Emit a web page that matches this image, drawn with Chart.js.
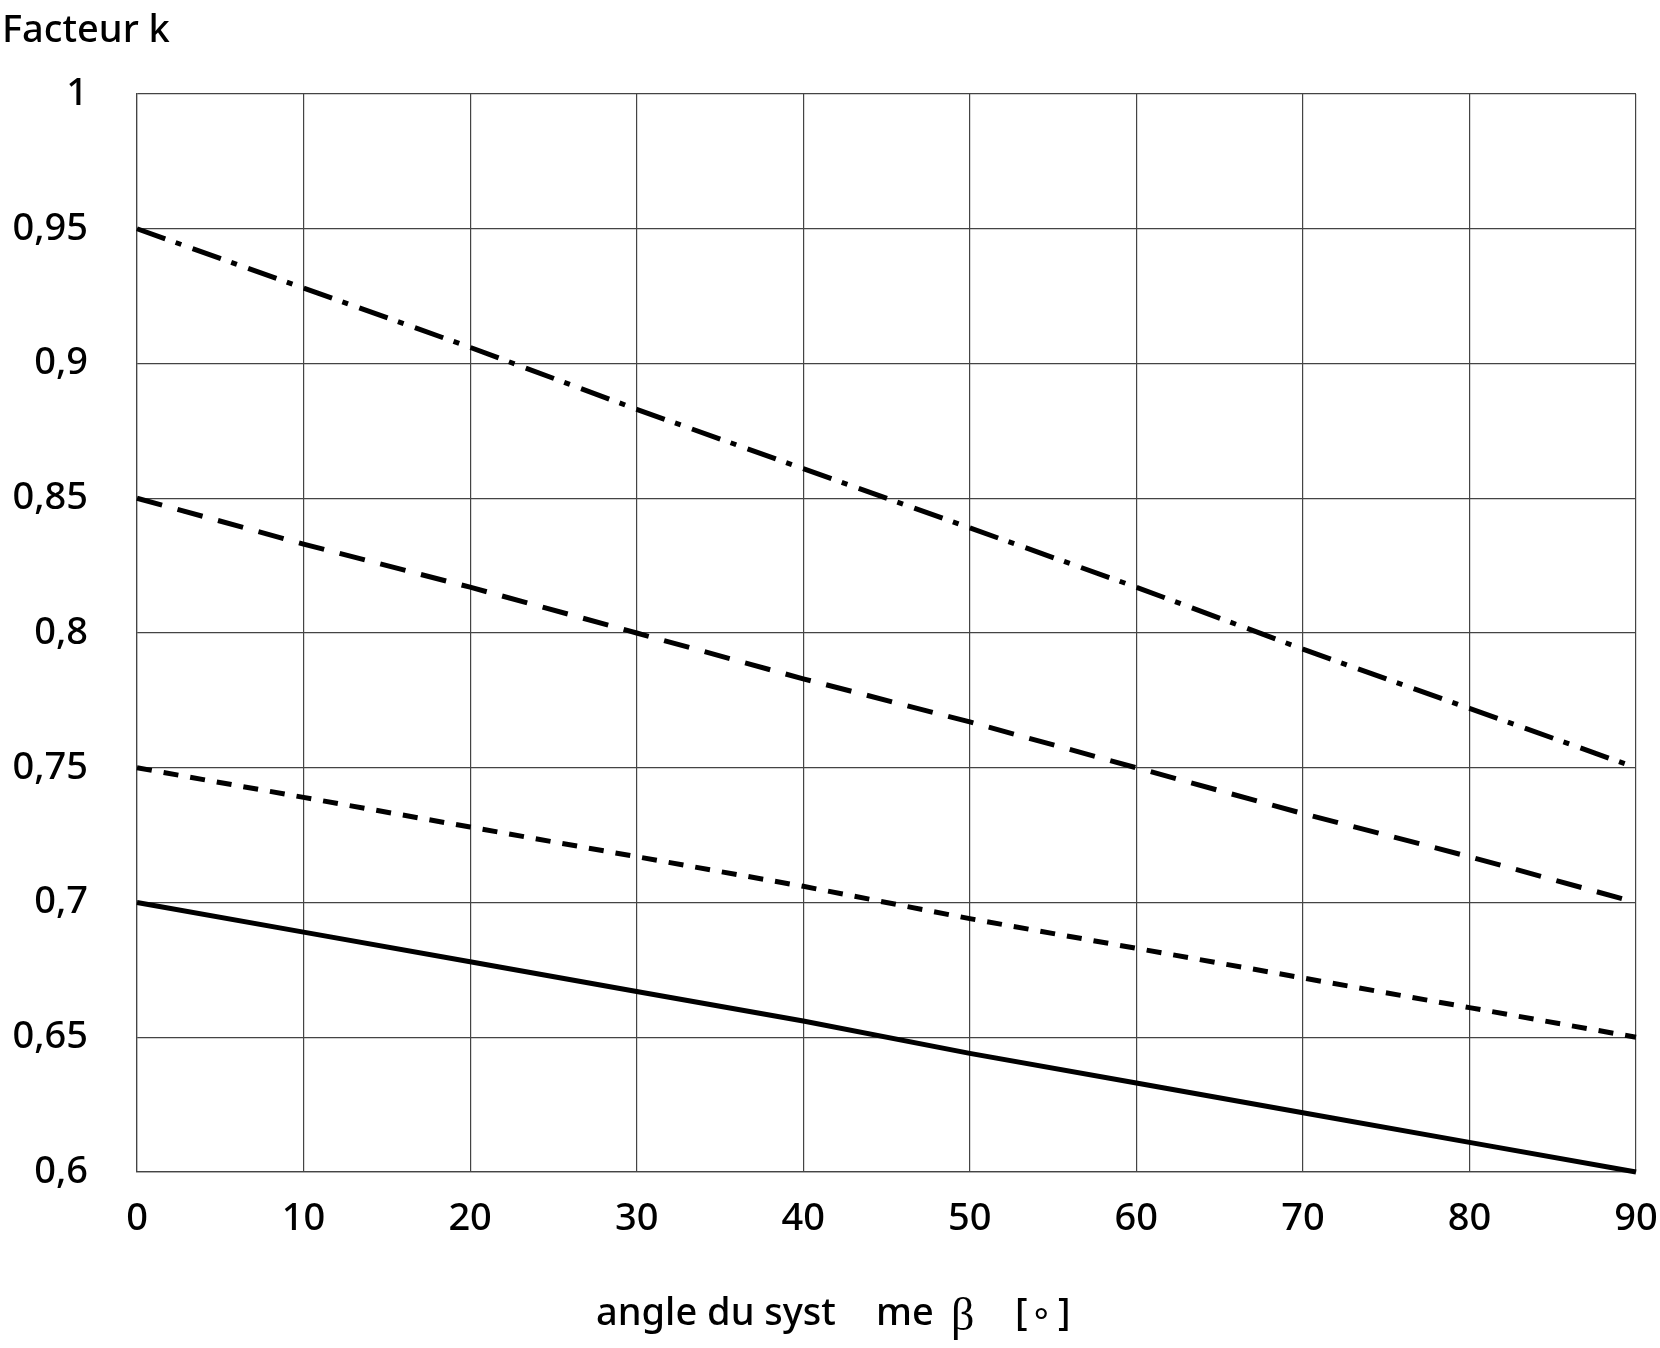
<!DOCTYPE html>
<html>
<head>
<meta charset="utf-8">
<script src="https://cdn.jsdelivr.net/npm/chart.js@4.4.1/dist/chart.umd.min.js"></script>
<style>
    html, body { margin: 0; padding: 0; background: #fff; }
    #wrap { width: 1660px; height: 1348px; }
</style>
</head>
<body>
<div id="wrap"><canvas id="c"></canvas></div>
<script>
// angle du système beta [deg] and facteur k, every 10 deg
const angles = [0, 10, 20, 30, 40, 50, 60, 70, 80, 90];
const kSolid = [0.700, 0.689, 0.678, 0.667, 0.656, 0.644, 0.633, 0.622, 0.611, 0.600];
const kShortDash = [0.750, 0.739, 0.728, 0.717, 0.706, 0.694, 0.683, 0.672, 0.661, 0.650];
const kLongDash = [0.850, 0.833, 0.817, 0.800, 0.783, 0.767, 0.750, 0.733, 0.717, 0.700];
const kDashDot = [0.950, 0.928, 0.906, 0.883, 0.861, 0.839, 0.817, 0.794, 0.772, 0.750];

const yTitle = 'Facteur k';
const xTitleParts = ['angle du syst', 'me', '\u03B2', '[', '\u2218', ']'];

const FONT = '"Noto Sans", "Open Sans", sans-serif';
const WEIGHT = '500';
const SIZE = 38;
const GRID = '#444';

function pts(ys) {
    return angles.map((a, i) => ({ x: a, y: ys[i] }));
}

function line(ys, dash) {
    return {
        data: pts(ys),
        borderColor: '#000',
        borderWidth: 5,
        borderDash: dash,
        pointRadius: 0,
        tension: 0,
        fill: false,
        clip: false
    };
}

// titles: "Facteur k" top left, x title with a serif beta
const titles = {
    id: 'titles',
    afterDraw(chart) {
        const ctx = chart.ctx;
        const area = chart.chartArea;
        ctx.save();
        ctx.fillStyle = '#000';
        ctx.textBaseline = 'middle';
        ctx.textAlign = 'left';
        ctx.font = WEIGHT + ' ' + SIZE + 'px ' + FONT;
        ctx.fillText(yTitle, 2, 31);

        const y = 1314;
        const x0 = area.left;
        ctx.fillText(xTitleParts[0], x0 + 459, y);
        ctx.fillText(xTitleParts[1], x0 + 739, y);
        ctx.fillText(xTitleParts[3], x0 + 878, y);
        ctx.fillText(xTitleParts[5], x0 + 921, y);
        ctx.font = '36px ' + FONT;
        ctx.fillText(xTitleParts[4], x0 + 893, y);
        ctx.font = '46px "Liberation Serif", "DejaVu Serif", serif';
        ctx.fillText(xTitleParts[2], x0 + 814, y + 4);
        ctx.restore();
    }
};

new Chart(document.getElementById('c'), {
    type: 'line',
    data: {
        datasets: [
            line(kDashDot, [30, 11, 6, 12]),
            line(kLongDash, [26, 16]),
            line(kShortDash, [15, 12]),
            line(kSolid, [])
        ]
    },
    options: {
        responsive: true,
        maintainAspectRatio: false,
        devicePixelRatio: 1,
        animation: false,
        layout: { padding: { top: 94, right: 0, bottom: 0, left: 0 } },
        plugins: {
            legend: { display: false },
            tooltip: { enabled: false },
            title: { display: false }
        },
        scales: {
            x: {
                type: 'linear',
                min: 0,
                max: 90,
                afterFit: s => {
                    s.height = 176;
                    s.paddingRight = 24;
                },
                ticks: {
                    stepSize: 10,
                    color: '#000',
                    padding: 24,
                    maxRotation: 0,
                    font: { family: FONT, size: SIZE, weight: WEIGHT }
                },
                grid: { color: GRID, lineWidth: 1.2, drawTicks: false },
                border: { color: GRID, width: 1.2 }
            },
            y: {
                min: 0.6,
                max: 1,
                afterFit: s => { s.width = 137; },
                ticks: {
                    stepSize: 0.05,
                    color: '#000',
                    padding: 49,
                    font: { family: FONT, size: SIZE, weight: WEIGHT },
                    callback: v => String(+v.toFixed(2)).replace('.', ',')
                },
                grid: { color: GRID, lineWidth: 1.2, drawTicks: false },
                border: { color: GRID, width: 1.2 }
            }
        }
    },
    plugins: [titles]
});
</script>
</body>
</html>
